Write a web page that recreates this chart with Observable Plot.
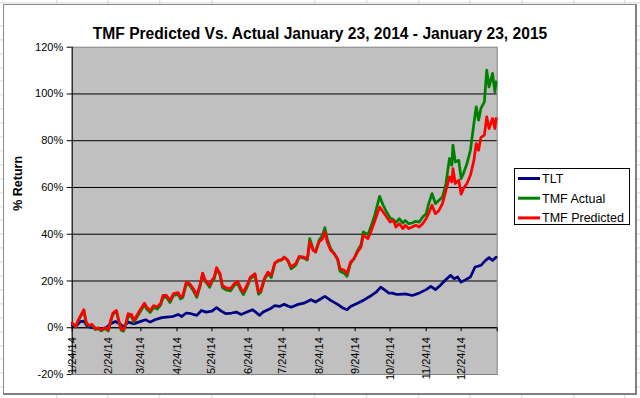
<!DOCTYPE html>
<html><head><meta charset="utf-8">
<script src="https://cdn.jsdelivr.net/npm/d3@7"></script>
<script src="https://cdn.jsdelivr.net/npm/@observablehq/plot@0.6"></script>
<style>
html,body{margin:0;padding:0;background:#fff;}
#wrap{position:relative;width:640px;height:398px;overflow:hidden;
 background-color:#fff;
 background-image:repeating-linear-gradient(to right, transparent 0 50.7px, #d6d6d6 50.7px 51.7px),
                  repeating-linear-gradient(to bottom, transparent 0 12.9px, #d6d6d6 12.9px 13.9px);
 background-position:5.3px 0, 0 12.4px;}
#frame{position:absolute;left:3px;top:4px;width:634px;height:391px;box-sizing:border-box;background:#fff;
 border:1px solid #8a8a8a;border-right:2px solid #808080;border-bottom:2px solid #808080;}
#wrap svg{position:absolute;left:0;top:0;}
</style>
</head><body>
<div id="wrap"><div id="frame"></div></div>
<script>
const titleText = "TMF Predicted Vs. Actual January 23, 2014 - January 23, 2015";
const yTitle = "% Return";
const startDate = "2014-01-24";
const endDate = "2015-01-24";
const tickDates = ["2014-01-24","2014-02-24","2014-03-24","2014-04-24","2014-05-24","2014-06-24","2014-07-24","2014-08-24","2014-09-24","2014-10-24","2014-11-24","2014-12-24","2015-01-24"];
const tickLabels = ["1/24/14","2/24/14","3/24/14","4/24/14","5/24/14","6/24/14","7/24/14","8/24/14","9/24/14","10/24/14","11/24/14","12/24/14",""];
const yTicks = [-20,0,20,40,60,80,100,120];
const seriesNames = ["TLT","TMF Actual","TMF Predicted"];
const seriesColors = ["#000080","#008000","#ff0000"];

// days since 1/24/14 and % return
const tltDays = [0,3,7,10,13,17,23,28,33,37,41,44,48,53,57,63,67,71,77,83,87,91,94,98,102,107,111,115,120,124,128,132,137,141,145,150,155,161,164,170,174,178,182,188,194,199,205,209,217,222,228,232,236,239,245,251,257,261,265,268,272,275,278,281,286,292,298,304,308,312,316,321,325,328,331,334,338,342,346,351,355,358,361,364];
const tltValues = [1.0,0.5,2.6,2.8,0.6,0,-0.4,-0.4,1.7,2.7,1.7,0.3,2.4,1.7,2.4,3.4,2.4,3.4,4.3,4.6,4.9,5.7,4.8,6.3,6.0,5.3,7.4,6.7,7.1,8.6,7.1,6.0,6.3,6.7,5.7,6.7,7.7,5.3,6.7,8.1,9.5,9.1,10.0,8.8,10.0,10.5,12.0,11.0,13.4,11.7,10.0,8.6,7.7,9.1,10.5,12.0,13.8,15.2,17.4,16.3,14.8,14.8,14.3,14.3,14.5,13.8,14.8,16.3,17.7,16.3,18.1,20.6,22.4,21.0,21.7,19.5,20.6,21.7,26.0,26.7,28.8,30.0,28.8,30.2];

const tmfDays = [0,3,5,10,12,14,17,20,22,25,28,31,33,35,38,40,42,44,46,48,51,53,55,58,62,64,67,70,73,76,78,81,84,87,91,93,95,98,101,104,107,110,112,114,118,120,122,124,127,129,132,136,139,142,145,147,150,153,157,160,162,165,168,171,174,177,180,182,185,188,192,195,199,202,204,207,209,212,215,217,219,222,225,228,230,234,236,239,242,245,248,250,254,257,260,264,267,270,273,276,278,281,284,286,289,292,295,298,301,304,306,309,312,315,318,321,324,326,327,329,332,334,336,339,342,345,347,349,351,354,356,358,361,363,364];
const tmfPredicted = [2.0,0.5,3.0,7.7,2.4,1.0,1.4,-0.4,0,-0.9,
 0,-0.9,3.1,6.3,7.4,3.1,-0.4,-0.9,1.7,6.0,
 5.6,3.1,4.8,7.4,10.5,8.8,7.4,9.5,8.9,10.5,
 13.8,13.8,11.7,14.6,15.0,13.1,13.8,19.5,18.8,16.7,
 13.8,18.8,23.4,20.6,18.1,20.3,21.7,25.7,23.1,18.1,
 17.1,16.7,18.8,19.8,16.7,15.2,18.1,21.7,23.1,15.2,
 16.0,21.0,23.8,22.4,27.7,28.8,29.1,30.2,29.0,26.0,
 27.4,30.5,30.2,29.5,36.7,33.1,32.4,36.7,38.1,41.0,
 36.7,33.1,31.7,29.5,25.3,24.5,23.1,28.1,29.5,32.4,
 34.5,39.5,38.1,41.7,45.9,51.6,49.5,47.4,45.2,45.9,
 43.1,44.5,42.4,43.8,42.4,43.1,43.8,43.1,44.5,46.7,
 48.8,52.4,48.8,50.2,53.1,58.8,64.5,62.4,68.1,61.7,
 63.1,57.1,59.5,61.7,65.2,71.6,78.8,75.9,81.4,82.4,
 90.2,85.2,89.5,85.2,89.5];
const tmfActual = [2.0,0.3,2.8,7.4,2.0,0.8,1.2,-0.8,-0.3,-1.3,
 -0.3,-1.4,2.6,5.8,7.0,2.5,-1.0,-1.5,1.2,5.0,
 4.8,2.3,4.0,6.5,9.8,8.0,6.5,8.8,8.0,9.8,
 13.0,13.0,10.8,13.8,14.3,12.3,13.0,18.9,18.0,15.9,
 13.0,18.0,23.0,20.0,17.3,19.6,21.0,25.3,22.5,17.2,
 16.2,15.8,18.0,19.0,15.8,14.2,17.2,21.0,22.5,14.3,
 15.2,20.5,23.2,21.5,27.5,28.6,29.0,30.2,28.8,25.2,
 26.8,30.2,29.8,29.0,38.1,33.5,32.4,37.4,39.5,42.8,
 38.0,33.8,31.7,29.0,24.2,23.2,22.0,27.5,29.5,33.0,
 35.5,41.0,39.8,43.8,48.5,56.2,52.5,49.5,47.0,46.2,
 45.0,46.6,44.8,45.9,44.5,44.8,45.5,45.2,47.4,48.8,
 52.8,57.4,53.1,54.5,55.9,61.7,72.4,69.5,78.1,70.9,
 71.6,63.8,66.0,70.2,75.9,87.4,94.5,88.8,93.8,96.6,
 110.2,103.0,108.8,100.9,105.2];

const parse = d3.utcParse("%Y-%m-%d");
const start = parse(startDate), end = parse(endDate);
const rows = [];
tltDays.forEach((d, i) => rows.push({series: seriesNames[0], date: d3.utcDay.offset(start, d), value: tltValues[i]}));
tmfDays.forEach((d, i) => rows.push({series: seriesNames[1], date: d3.utcDay.offset(start, d), value: tmfActual[i]}));
tmfDays.forEach((d, i) => rows.push({series: seriesNames[2], date: d3.utcDay.offset(start, d), value: tmfPredicted[i]}));
const ticks = tickDates.map((t, i) => ({date: parse(t), label: tickLabels[i]}));

const font = "'Liberation Sans', Arial, sans-serif";
const chart = Plot.plot({
  width: 640, height: 398,
  marginLeft: 71.7, marginRight: 143.3, marginTop: 46.7, marginBottom: 24,
  style: {background: "transparent", fontFamily: font, fontSize: "11px", color: "black", overflow: "visible"},
  x: {type: "utc", domain: [start, end], axis: null},
  y: {domain: [-20, 120], axis: null},
  color: {domain: seriesNames, range: seriesColors},
  marks: [
    Plot.frame({fill: "#c0c0c0", stroke: "#808080"}),
    Plot.ruleY(yTicks.filter(v => v > -20 && v < 120), {stroke: "black", strokeWidth: 1}),
    Plot.ruleX([start], {stroke: "black"}),
    Plot.axisY({ticks: yTicks, tickFormat: d => `${d}%`, tickSize: 5, tickPadding: 4, fontSize: 11, label: null, stroke: "black", fill: "black"}),
    Plot.ruleY([0], {stroke: "black"}),
    Plot.ruleX(ticks, {x: "date", y1: () => 0, y2: () => 0, insetBottom: -4, stroke: "black"}),
    Plot.text(ticks, {x: "date", y: () => 0, text: "label", rotate: -90, textAnchor: "end", dy: 9.5, fontSize: 11, fill: "black"}),
    Plot.line(rows, {x: "date", y: "value", z: "series", stroke: "series", strokeWidth: 2.75, strokeLinejoin: "round"}),
    Plot.text([yTitle], {frameAnchor: "left", dx: -54.4, rotate: -90, fontWeight: "bold", fontSize: 12.5, fill: "black"})
  ]
});
document.getElementById("wrap").appendChild(chart);

const svg = d3.select(chart);
svg.append("text")
  .attr("x", 320).attr("y", 38.5)
  .attr("text-anchor", "middle")
  .attr("font-family", font).attr("font-weight", "bold").attr("font-size", 15.6)
  .attr("fill", "black")
  .text(titleText);

const lg = svg.append("g").attr("font-family", font).attr("font-size", 12.5).attr("text-anchor", "start");
lg.append("rect").attr("x", 514.5).attr("y", 168.5).attr("width", 115).attr("height", 56)
  .attr("fill", "white").attr("stroke", "black");
seriesNames.forEach((name, i) => {
  const cy = 178.5 + i * 19.7;
  lg.append("line").attr("x1", 518).attr("x2", 540).attr("y1", cy).attr("y2", cy)
    .attr("stroke", seriesColors[i]).attr("stroke-width", 3);
  lg.append("text").attr("x", 542).attr("y", cy).attr("dy", "0.35em")
    .attr("text-anchor", "start").attr("fill", "black").text(name);
});
</script>
</body></html>
